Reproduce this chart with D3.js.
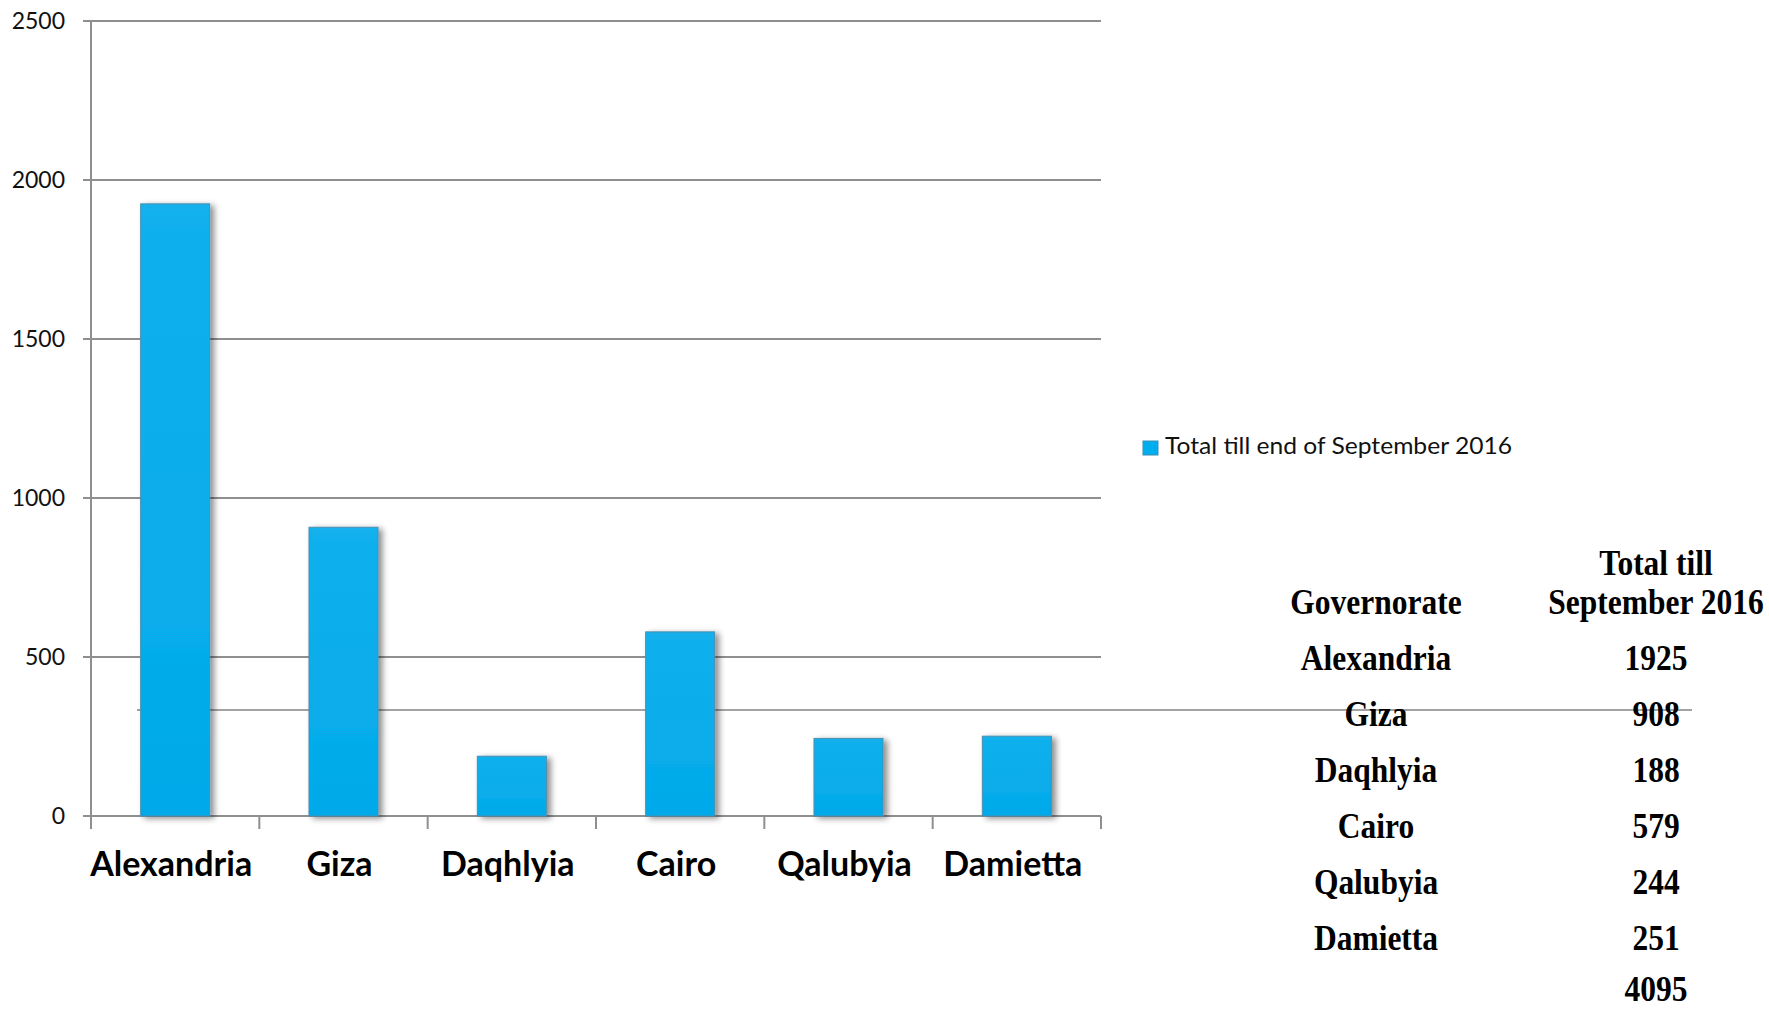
<!DOCTYPE html>
<html>
<head>
<meta charset="utf-8">
<script src="https://cdn.jsdelivr.net/npm/d3@7"></script>
<style>
  html, body { margin: 0; padding: 0; background: #ffffff; }
  svg { display: block; }
</style>
</head>
<body>
<svg id="chart" width="1769" height="1009"></svg>
<script>
// ---- data ----
const categories = ["Alexandria", "Giza", "Daqhlyia", "Cairo", "Qalubyia", "Damietta"];
const values = [1925, 908, 188, 579, 244, 251];
const seriesName = "Total till end of September 2016";
const yTicks = [0, 500, 1000, 1500, 2000, 2500];
const tableHeader = ["Governorate", "Total till", "September 2016"];
const tableTotal = 4095;

const svg = d3.select("#chart");

const x = d3.scaleBand().domain(categories).range([91, 1101])
  .paddingInner(0.59).paddingOuter(0.295);
const y = d3.scaleLinear().domain([0, 2500]).range([816, 21]);

const defs = svg.append("defs");
const grad = defs.append("linearGradient").attr("id", "barGrad")
  .attr("x1", 0).attr("y1", 0).attr("x2", 0).attr("y2", 1);
grad.append("stop").attr("offset", "0%").attr("stop-color", "#12b0ed");
grad.append("stop").attr("offset", "100%").attr("stop-color", "#02aaea");

const filt = defs.append("filter").attr("id", "shadow")
  .attr("x", "-20%").attr("y", "-20%").attr("width", "150%").attr("height", "150%");
filt.append("feGaussianBlur").attr("in", "SourceAlpha").attr("stdDeviation", 3).attr("result", "blur");
filt.append("feOffset").attr("in", "blur").attr("dx", 4).attr("dy", 2).attr("result", "off");
filt.append("feComponentTransfer").attr("in", "off").attr("result", "soft")
  .append("feFuncA").attr("type", "linear").attr("slope", 0.45);
const merge = filt.append("feMerge");
merge.append("feMergeNode").attr("in", "soft");
merge.append("feMergeNode").attr("in", "SourceGraphic");

const gridColor = "#8f8f8f";

// gridlines (with left tick stubs)
svg.append("g").selectAll("line").data(yTicks).join("line")
  .attr("x1", 83).attr("x2", 1101)
  .attr("y1", d => y(d)).attr("y2", d => y(d))
  .attr("stroke", gridColor).attr("stroke-width", 2);

// y axis line
svg.append("line").attr("x1", 91).attr("x2", 91)
  .attr("y1", y(2500)).attr("y2", 829)
  .attr("stroke", gridColor).attr("stroke-width", 2);

// x tick marks at category boundaries
const bounds = categories.map(c => x(c) - x.step() * x.paddingInner() / 2).concat([1101]);
svg.append("g").selectAll("line").data(bounds.slice(1)).join("line")
  .attr("x1", d => d).attr("x2", d => d)
  .attr("y1", 816).attr("y2", 829)
  .attr("stroke", gridColor).attr("stroke-width", 2);

// y tick labels
svg.append("g").selectAll("text").data(yTicks).join("text")
  .attr("x", 65).attr("y", d => y(d) + 8)
  .attr("text-anchor", "end")
  .attr("font-family", "Lato, 'Open Sans', sans-serif")
  .attr("font-size", 23)
  .attr("fill", "#111")
  .text(d => d);

// stray table border line (behind bars)
svg.append("line").attr("x1", 137).attr("x2", 1692)
  .attr("y1", 710).attr("y2", 710)
  .attr("stroke", "#a3a3a3").attr("stroke-width", 2);

// bars
svg.append("g").selectAll("rect").data(values).join("rect")
  .attr("x", (d, i) => x(categories[i]))
  .attr("width", x.bandwidth())
  .attr("y", d => y(d))
  .attr("height", d => y(0) - y(d))
  .attr("fill", "url(#barGrad)")
  .attr("stroke", "#4a8fae").attr("stroke-width", 1)
  .attr("filter", "url(#shadow)");

// x category labels
svg.append("g").selectAll("text").data(categories).join("text")
  .attr("x", d => x(d) + x.bandwidth() / 2 - 4)
  .attr("y", 876)
  .attr("text-anchor", "middle")
  .attr("font-family", "Lato, 'Open Sans', sans-serif")
  .attr("font-weight", "bold")
  .attr("font-size", 34)
  .attr("fill", "#000")
  .text(d => d);

// legend
svg.append("rect").attr("x", 1143).attr("y", 441).attr("width", 15).attr("height", 14)
  .attr("fill", "#00aeef").attr("stroke", "#3a8fb5").attr("stroke-width", 1);
svg.append("text").attr("x", 1165).attr("y", 454)
  .attr("font-family", "Lato, 'Open Sans', sans-serif")
  .attr("font-size", 24)
  .attr("fill", "#111")
  .attr("textLength", 347).attr("lengthAdjust", "spacingAndGlyphs")
  .text(seriesName);

// table
const colGov = 1376, colVal = 1656;
const tbl = svg.append("g")
  .attr("font-family", "'Liberation Serif', 'Times New Roman', serif")
  .attr("font-weight", "bold")
  .attr("font-size", 35)
  .attr("fill", "#000");

function tText(cx, by, txt) {
  tbl.append("text")
    .attr("transform", `translate(${cx},${by}) scale(0.9,1)`)
    .attr("text-anchor", "middle")
    .text(txt);
}
tText(colVal, 575, tableHeader[1]);
tText(colVal, 614, tableHeader[2]);
tText(colGov, 614, tableHeader[0]);
const rowY = d3.scaleLinear().domain([0, 1]).range([670, 726]);
categories.forEach((c, i) => {
  tText(colGov, rowY(i), c);
  tText(colVal, rowY(i), values[i]);
});
tText(colVal, 1001, tableTotal);
</script>
</body>
</html>
